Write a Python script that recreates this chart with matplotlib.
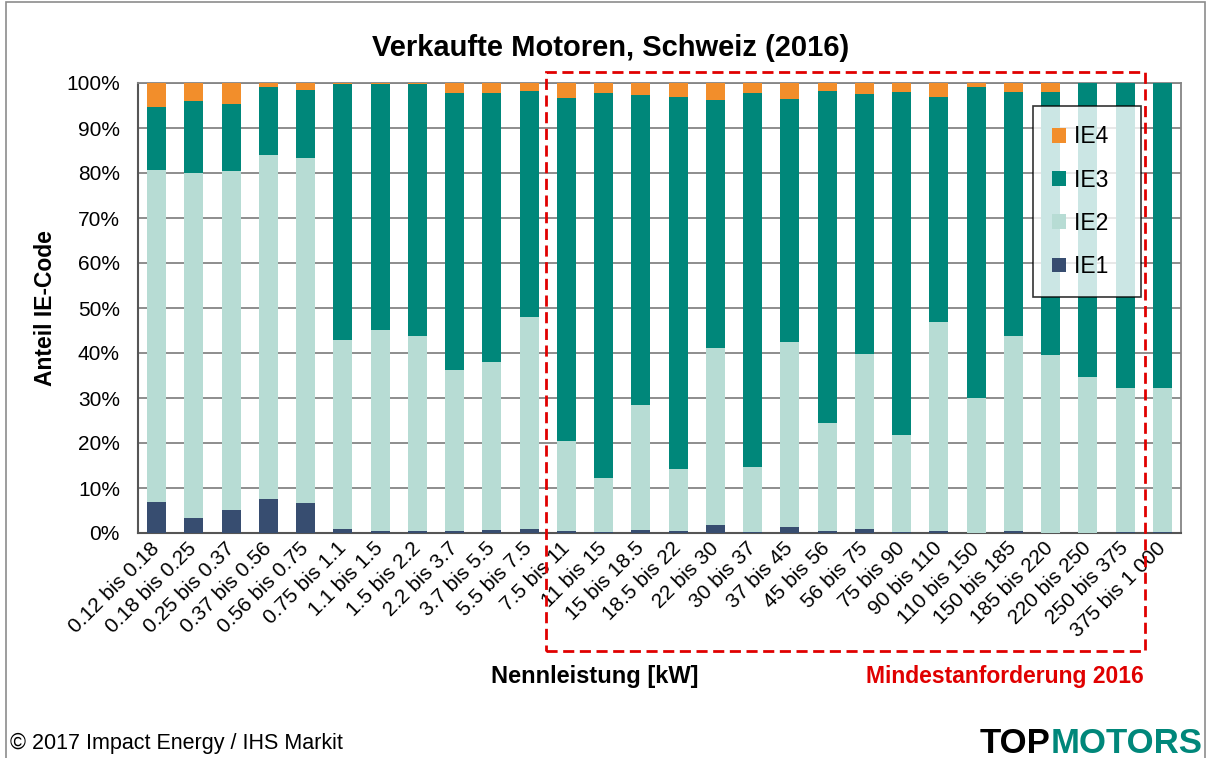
import matplotlib
matplotlib.use("Agg")
import matplotlib.pyplot as plt
from matplotlib.patches import Rectangle
import numpy as np

plt.rcParams['font.family'] = ['Liberation Sans', 'DejaVu Sans']

# Leistungsklassen [kW]
klassen = ["0.12 bis 0.18", "0.18 bis 0.25", "0.25 bis 0.37", "0.37 bis 0.56",
           "0.56 bis 0.75", "0.75 bis 1.1", "1.1 bis 1.5", "1.5 bis 2.2",
           "2.2 bis 3.7", "3.7 bis 5.5", "5.5 bis 7.5", "7.5 bis 11",
           "11 bis 15", "15 bis 18.5", "18.5 bis 22", "22 bis 30",
           "30 bis 37", "37 bis 45", "45 bis 56", "56 bis 75",
           "75 bis 90", "90 bis 110", "110 bis 150", "150 bis 185",
           "185 bis 220", "220 bis 250", "250 bis 375", "375 bis 1 000"]

# Anteile in %
ie1 = [7.0, 3.4, 5.2, 7.6, 6.6, 1.0, 0.5, 0.5, 0.5, 0.7, 0.9, 0.5, 0.3, 0.7,
       0.5, 1.8, 0.3, 1.4, 0.5, 1.0, 0.3, 0.5, 0.1, 0.5, 0.1, 0.1, 0.3, 0.3]
ie2 = [73.7, 76.6, 75.3, 76.5, 76.7, 41.8, 44.6, 43.2, 35.7, 37.2, 47.2, 20.0,
       11.9, 27.8, 13.7, 39.3, 14.3, 41.1, 23.9, 38.8, 21.5, 46.5, 29.9, 43.3,
       39.5, 34.6, 31.9, 31.9]
ie3 = [14.0, 15.9, 14.8, 15.1, 15.1, 57.0, 54.7, 56.1, 61.6, 59.9, 50.2, 76.2,
       85.6, 68.9, 82.7, 55.2, 83.2, 53.9, 73.8, 57.8, 76.2, 50.0, 69.1, 54.2,
       58.3, 65.3, 67.8, 67.8]
ie4 = [5.3, 4.1, 4.7, 0.8, 1.6, 0.2, 0.2, 0.2, 2.2, 2.2, 1.7, 3.3, 2.2, 2.6,
       3.1, 3.7, 2.2, 3.6, 1.8, 2.4, 2.0, 3.0, 0.9, 2.0, 2.1, 0.0, 0.0, 0.0]

farben = {"IE1": "#374D70", "IE2": "#B7DCD4", "IE3": "#00877A", "IE4": "#F28E2B"}

W, H = 1216, 758
fig = plt.figure(figsize=(W / 100, H / 100), dpi=100)
ax = fig.add_axes([138 / W, 1 - 533 / H, (1181 - 138) / W, (533 - 83) / H])

x = np.arange(len(klassen))
unten = np.zeros(len(klassen))
balken = {}
for name, werte in [("IE1", ie1), ("IE2", ie2), ("IE3", ie3), ("IE4", ie4)]:
    balken[name] = ax.bar(x, werte, 0.51, bottom=unten, color=farben[name],
                          label=name, zorder=3)
    unten = unten + np.array(werte)

ax.set_xlim(-0.5, len(klassen) - 0.5)
ax.set_ylim(0, 100)
ax.set_yticks(np.arange(0, 101, 10))
ax.set_yticklabels([f"{v}%" for v in range(0, 101, 10)], fontsize=15)
ax.yaxis.grid(True, color="#858585", linewidth=1.3, zorder=0)
ax.tick_params(axis="y", length=0, pad=13)
ax.tick_params(axis="x", length=0, pad=4)
ax.set_xticks(x)
ax.set_xticklabels(klassen, rotation=45, ha="right", va="center",
                   rotation_mode="anchor", fontsize=15)
for lab in ax.get_xticklabels():
    lab.set_y(-0.015)

for s in ["left", "bottom"]:
    ax.spines[s].set_color("#555555")
    ax.spines[s].set_linewidth(1.5)
for s in ["right", "top"]:
    ax.spines[s].set_color("#858585")
    ax.spines[s].set_linewidth(1.3)

ax.set_ylabel("Anteil IE-Code", fontsize=16.5, fontweight="bold")
ax.yaxis.set_label_coords(-0.078, 0.5)

# Legende, IE4 oben
hs = [balken[n] for n in ["IE4", "IE3", "IE2", "IE1"]]
leg = fig.legend(hs, ["IE4  ", "IE3  ", "IE2  ", "IE1  "], loc="upper left",
                 bbox_to_anchor=(1033 / W, 1 - 106 / H), fontsize=16.5,
                 frameon=True, fancybox=False, edgecolor="black",
                 handlelength=0.6, handleheight=0.6, handletextpad=0.35,
                 labelspacing=0.88, borderpad=0.85, borderaxespad=0)
leg.get_frame().set_linewidth(1.2)
leg.set_zorder(10)

fig.text(611 / W, 1 - 48 / H, "Verkaufte Motoren, Schweiz (2016)",
         ha="center", va="center", fontsize=21, fontweight="bold")
fig.text(595 / W, 1 - 677 / H, "Nennleistung [kW]", ha="center", va="center",
         fontsize=17, fontweight="bold")
fig.text(1005 / W, 1 - 677 / H, "Mindestanforderung 2016", ha="center",
         va="center", fontsize=16.5, fontweight="bold", color="#E00000")
fig.text(10 / W, 1 - 743 / H, "\u00a9 2017 Impact Energy / IHS Markit",
         ha="left", va="center", fontsize=15.5)
fig.text(1050 / W, 1 - 753 / H, "TOP", ha="right", va="baseline",
         fontsize=25, fontweight="bold", color="black")
fig.text(1051 / W, 1 - 753 / H, "MOTORS", ha="left", va="baseline",
         fontsize=25, fontweight="bold", color="#00877A")

# rote gestrichelte Umrandung
fig.patches.append(Rectangle((546 / W, 1 - 651 / H), (1145 - 546) / W,
                             (651 - 72) / H, transform=fig.transFigure,
                             fill=False, edgecolor="#E00000", linewidth=2,
                             linestyle=(0, (4, 2)), zorder=20))
# Rahmen
fig.patches.append(Rectangle((6 / W, -0.01), (1205 - 6) / W, 1.01 - 2 / H,
                             transform=fig.transFigure, fill=False,
                             edgecolor="#8c8c8c", linewidth=1.2))

fig.savefig("out.png", dpi=100)
